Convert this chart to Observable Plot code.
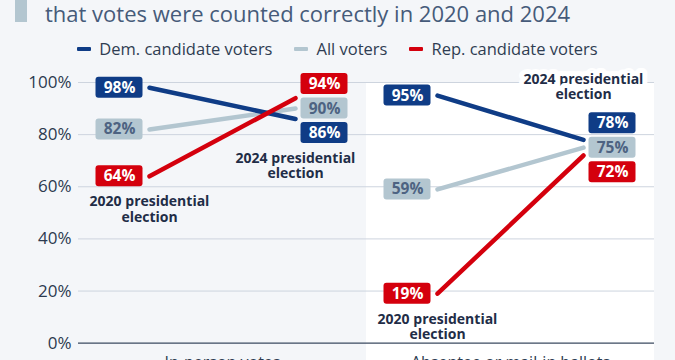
<!DOCTYPE html>
<html><head><meta charset="utf-8">
<script src="https://cdn.jsdelivr.net/npm/d3@7"></script>
<script src="https://cdn.jsdelivr.net/npm/@observablehq/plot@0.6"></script>
<style>
body{margin:0;width:675px;height:360px;overflow:hidden;background:#f4f6f9;font-family:"Open Sans",sans-serif;position:relative}
#bar{position:absolute;left:15px;top:0;width:12px;height:22px;background:#b3c6d0}
#title{position:absolute;left:45px;top:0;font-size:22px;line-height:26px;color:#465b7a;white-space:nowrap}
#legend{position:absolute;top:38px;left:0;width:675px;display:flex;justify-content:center;gap:22px;font-size:16.5px;line-height:21px;color:#2f3d52}
.item{display:flex;align-items:center}
.sw{width:14px;height:4px;margin-right:8px;border-radius:1px}
#chart{position:absolute;left:0;top:62px}
</style></head><body>
<div id="bar"></div>
<div id="title">that votes were counted correctly in 2020 and 2024</div>
<div id="legend"></div>
<div id="chart"></div>
<script>
// ---- data ----
const panels = ["In-person votes", "Absentee or mail-in ballots"];
const years = ["2020", "2024"];
const series = ["Dem. candidate voters", "All voters", "Rep. candidate voters"];
const inPerson2020 = [98, 82, 64];
const inPerson2024 = [86, 90, 94];
const mail2020 = [95, 59, 19];
const mail2024 = [78, 75, 72];
const yTicks = [0, 20, 40, 60, 80, 100];
const annotations = [
  {panel: panels[0], year: "2020", text: "2020 presidential\nelection", side: "below"},
  {panel: panels[0], year: "2024", text: "2024 presidential\nelection", side: "below"},
  {panel: panels[1], year: "2020", text: "2020 presidential\nelection", side: "below"},
  {panel: panels[1], year: "2024", text: "2024 presidential\nelection", side: "above"}
];
// ---- styles ----
const colors = ["#0f3c86", "#b3c6d0", "#d4000d"];
const drawOrder = [1, 0, 2];

// legend
const legend = document.getElementById("legend");
series.forEach((s, i) => {
  const it = document.createElement("div"); it.className = "item";
  const sw = document.createElement("span"); sw.className = "sw"; sw.style.background = colors[i];
  it.appendChild(sw); it.appendChild(document.createTextNode(s)); legend.appendChild(it);
});

// rows
const table = {
  [panels[0]]: {"2020": inPerson2020, "2024": inPerson2024},
  [panels[1]]: {"2020": mail2020, "2024": mail2024}
};
const rows = [];
for (const p of panels) for (const y of years) for (const i of drawOrder)
  rows.push({panel: p, year: y, series: series[i], value: table[p][y][i]});

// label dodging (in data units)
const height = 310, marginTop = 20, marginBottom = 29.3;
const pxPerUnit = (height - marginTop - marginBottom) / 100;
const spacing = 24.5 / pxPerUnit;
for (const p of panels) for (const y of years) {
  const g = rows.filter(r => r.panel === p && r.year === y).sort((a, b) => b.value - a.value);
  let clusters = g.map(r => ({members: [r]}));
  const center = c => d3.mean(c.members, m => m.value);
  let merged = true;
  while (merged) {
    merged = false;
    for (let k = 0; k < clusters.length - 1; k++) {
      const A = clusters[k], B = clusters[k + 1];
      const bottomA = center(A) - (A.members.length - 1) / 2 * spacing;
      const topB = center(B) + (B.members.length - 1) / 2 * spacing;
      if (bottomA - topB < spacing) {
        clusters.splice(k, 2, {members: A.members.concat(B.members)});
        merged = true; break;
      }
    }
  }
  for (const c of clusters) {
    const m = center(c), n = c.members.length;
    c.members.forEach((r, k) => r.ly = m + ((n - 1) / 2 - k) * spacing);
  }
}
const annos = annotations.map(a => {
  const g = rows.filter(r => r.panel === a.panel && r.year === a.year);
  return {...a, ly: a.side === "below" ? d3.min(g, r => r.ly) : d3.max(g, r => r.ly)};
});

const labelDx = {"2020": -30, "2024": 29};
const labelMarks = [];
for (const y of years) {
  const d = rows.filter(r => r.year === y);
  labelMarks.push(
    Plot.rect(d, {fx: "panel", x1: "year", x2: "year", y1: "ly", y2: "ly", fill: "series",
      insetLeft: -23.5, insetRight: -23.5, insetTop: -10.5, insetBottom: -10.5, rx: 3, dx: labelDx[y]}),
    Plot.text(d.filter(r => r.series !== series[1]), {fx: "panel", x: "year", y: "ly", text: r => r.value + "%",
      fill: "white", fontWeight: "bold", fontSize: 15.5, dx: labelDx[y]}),
    Plot.text(d.filter(r => r.series === series[1]), {fx: "panel", x: "year", y: "ly", text: r => r.value + "%",
      fill: "#4d6382", fontWeight: "bold", fontSize: 15.5, dx: labelDx[y]})
  );
}

const chart = Plot.plot({
  width: 675, height, marginTop, marginBottom, marginLeft: 77, marginRight: 21,
  style: {fontFamily: "Open Sans", background: "transparent", overflow: "visible"},
  fx: {domain: panels, padding: 0},
  x: {type: "point", domain: years, padding: 0.48, axis: null},
  y: {domain: [0, 100]},
  color: {domain: series, range: colors},
  marks: [
    Plot.rect([panels[1]], {fx: d => d, fill: "white", insetBottom: -40}),
    Plot.gridY(yTicks.filter(t => t > 0), {stroke: "#cdd4de", strokeOpacity: 1, strokeWidth: 1}),
    Plot.ruleY([0], {stroke: "#3b4a60", strokeWidth: 1.3}),
    Plot.axisY(yTicks, {tickSize: 0, tickPadding: 7, tickFormat: d => d + "%", fontSize: 17, color: "#2c3a4f", label: null}),
    Plot.axisFx({anchor: "bottom", tickSize: 0, tickPadding: 13, fontSize: 16, color: "#2c3a4f", label: null}),
    Plot.line(rows, {fx: "panel", x: "year", y: "value", z: "series", stroke: "series", strokeWidth: 4.5, strokeLinecap: "round"}),
    ...labelMarks,
    Plot.text(annos.filter(a => a.side === "below"), {fx: "panel", x: "year", y: "ly", text: "text", dy: 19, lineAnchor: "top",
      fontWeight: "bold", fontSize: 14, lineHeight: 1.1, fill: "#1f2d47"}),
    Plot.text(annos.filter(a => a.side === "above"), {fx: "panel", x: "year", y: "ly", text: "text", dy: -24, lineAnchor: "bottom",
      fontWeight: "bold", fontSize: 14, lineHeight: 1.1, fill: "#1f2d47", stroke: "white", strokeWidth: 10, strokeLinejoin: "round"})
  ]
});
document.getElementById("chart").appendChild(chart);
</script>
</body></html>
